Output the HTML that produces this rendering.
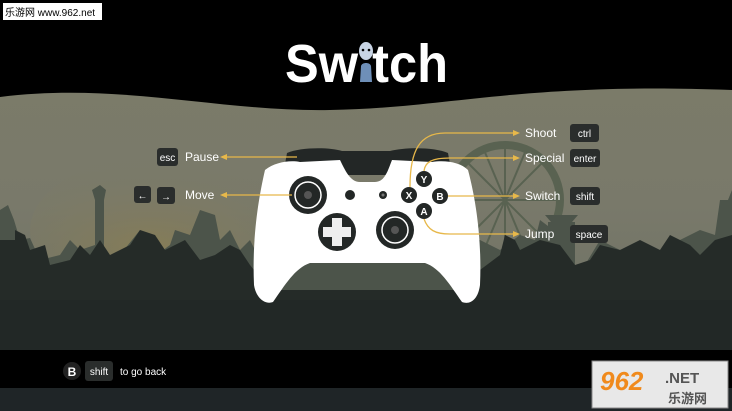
<!DOCTYPE html>
<html><head><meta charset="utf-8"><style>
html,body{margin:0;padding:0;width:732px;height:411px;overflow:hidden;background:#000}
svg{display:block}
text{font-family:"Liberation Sans","Noto Sans CJK SC",sans-serif}
</style></head><body>
<svg width="732" height="411" viewBox="0 0 732 411" xmlns="http://www.w3.org/2000/svg">
<defs>
<linearGradient id="sky" x1="0" y1="0" x2="0" y2="1">
<stop offset="0" stop-color="#7b7b69"/><stop offset="0.45" stop-color="#79796a"/><stop offset="1" stop-color="#6c7064"/>
</linearGradient>
<radialGradient id="glow" cx="0.3" cy="0.6" r="0.5">
<stop offset="0" stop-color="#8a7e52" stop-opacity="0.8"/><stop offset="1" stop-color="#7a7a68" stop-opacity="0"/>
</radialGradient>
</defs>
<rect width="732" height="411" fill="#000"/>
<path d="M0,97 C120,82 220,112 330,110 C450,108 520,82 732,90 L732,350 L0,350 Z" fill="url(#sky)"/>
<ellipse cx="230" cy="230" rx="200" ry="90" fill="url(#glow)"/>
<g stroke="#56604f" fill="none" opacity="0.9">
<circle cx="505" cy="200" r="55" stroke-width="8"/>
<g stroke-width="2">
<line x1="505" y1="145" x2="505" y2="255"/><line x1="450" y1="200" x2="560" y2="200"/>
<line x1="466" y1="161" x2="544" y2="239"/><line x1="544" y1="161" x2="466" y2="239"/>
<line x1="484" y1="150" x2="526" y2="250"/><line x1="526" y1="150" x2="484" y2="250"/>
</g></g>
<path fill="#4c544a" d="M0,300 L0,210 L8,205 L14,220 L20,240 L30,238 L40,260 L60,255 L70,240 L80,250 L95,245 L95,200 L92,190 L100,185 L106,190 L104,200 L104,260 L120,255 L140,230 L150,260 L170,245 L175,230 L190,235 L200,210 L215,215 L220,240 L230,230 L240,250 L250,240 L260,260 L280,255 L290,250 L300,240 L480,240 L500,250 L520,235 L535,240 L540,220 L560,235 L560,270 L585,265 L600,240 L620,250 L640,245 L660,260 L680,240 L700,230 L715,235 L720,200 L728,200 L732,190 L732,300 Z"/>
<path fill="#4c544a" d="M548,222 L548,280 L575,280 L575,222 Z M545,215 L578,215 L572,222 L551,222 Z"/>
<path fill="#252b28" d="M0,350 L0,240 L15,240 L15,230 L25,235 L30,250 L45,245 L50,265 L70,260 L80,245 L90,255 L100,240 L110,255 L130,245 L140,230 L155,235 L165,250 L185,240 L200,260 L215,255 L230,245 L240,250 L250,265 L270,290 L460,290 L480,270 L500,255 L505,235 L515,240 L520,250 L540,240 L560,245 L575,265 L590,260 L600,245 L620,250 L640,240 L660,250 L670,235 L690,245 L700,255 L715,240 L732,235 L732,350 Z"/>
<rect x="0" y="300" width="732" height="50" fill="#222826"/>
<rect x="0" y="350" width="732" height="38" fill="#000"/>
<rect x="0" y="388" width="732" height="23" fill="#1f2527"/>
<!-- controller -->
<path d="M287,153 C300,147 330,147 342,151 L390,151 C405,147 435,147 448,153 L452,175 L283,175 Z" fill="#232726"/>
<path d="M265,170 C275,162 290,160 300,162 L340,160 C345,170 350,182 360,182 L375,182 C385,182 388,170 392,160 L432,162 C445,160 460,162 468,170 C476,200 482,240 480,285 C478,300 470,305 462,302 C450,285 440,268 425,263 L310,263 C295,268 285,285 273,302 C265,305 256,298 254,285 C252,240 258,200 265,170 Z" fill="#fff"/>
<circle cx="308" cy="195" r="19" fill="#232726"/><circle cx="308" cy="195" r="13" fill="none" stroke="#fff" stroke-width="1.5"/><circle cx="308" cy="195" r="4" fill="#555"/>
<circle cx="350" cy="195" r="5" fill="#232726"/><circle cx="383" cy="195" r="4" fill="#232726"/><circle cx="383" cy="195" r="1.5" fill="#777"/>
<circle cx="337" cy="232" r="19" fill="#232726"/>
<path d="M332,218 h10 v9 h9 v10 h-9 v9 h-10 v-9 h-9 v-10 h9 z" fill="#eee"/>
<circle cx="395" cy="230" r="19" fill="#232726"/><circle cx="395" cy="230" r="13" fill="none" stroke="#fff" stroke-width="1.5"/><circle cx="395" cy="230" r="4" fill="#555"/>
<!-- connectors -->
<g stroke="#e7b84a" stroke-width="1.3" fill="none">
<path d="M297,157 L222,157"/><path d="M292,195 L222,195"/>
<path d="M410,187 C410,150 420,133 445,133 L518,133"/>
<path d="M424,171 C425,162 432,158 450,158 L518,158"/>
<path d="M448,196 L518,196"/>
<path d="M424,219 C428,230 435,234 450,234 L518,234"/>
</g>
<g fill="#e7b84a">
<path d="M220,157 l7,-3 v6 z"/><path d="M220,195 l7,-3 v6 z"/>
<path d="M520,133 l-7,-3 v6 z"/><path d="M520,158 l-7,-3 v6 z"/><path d="M520,196 l-7,-3 v6 z"/><path d="M520,234 l-7,-3 v6 z"/>
</g>
<g fill="#232726"><circle cx="409" cy="195" r="8"/><circle cx="424" cy="179" r="8"/><circle cx="440" cy="196" r="8"/><circle cx="424" cy="211" r="8"/></g>
<g fill="#fff" font-size="10" font-weight="bold" text-anchor="middle">
<text x="409" y="199">X</text><text x="424" y="183">Y</text><text x="440" y="200">B</text><text x="424" y="215">A</text></g>
<g fill="#2a2d2c"><rect x="157" y="148" width="21" height="18" rx="3"/><rect x="134" y="186" width="17" height="17" rx="3"/><rect x="157" y="187" width="18" height="17" rx="3"/>
<rect x="570" y="124" width="29" height="18" rx="3"/><rect x="570" y="149" width="30" height="18" rx="3"/><rect x="570" y="187" width="30" height="18" rx="3"/><rect x="570" y="225" width="38" height="18" rx="3"/></g>
<g fill="#fff" font-size="10" text-anchor="middle">
<text x="167.5" y="161">esc</text><text x="142.5" y="199">←</text><text x="166" y="200">→</text>
<text x="584.5" y="137">ctrl</text><text x="585" y="162">enter</text><text x="585" y="200">shift</text><text x="589" y="238">space</text></g>
<g fill="#fff" font-size="12">
<text x="185" y="161">Pause</text><text x="185" y="199">Move</text>
<text x="525" y="137">Shoot</text><text x="525" y="162">Special</text><text x="525" y="200">Switch</text><text x="525" y="238">Jump</text></g>
<text x="285" y="82" fill="#fff" font-size="54" font-weight="bold" textLength="163" lengthAdjust="spacingAndGlyphs">Sw<tspan fill="#000">i</tspan>tch</text>
<ellipse cx="366" cy="51" rx="7" ry="9" fill="#c8d4e4"/><circle cx="363" cy="50" r="1.3" fill="#000"/><circle cx="369" cy="50" r="1.3" fill="#000"/>
<path d="M360,82 L361,66 C362,62 370,62 371,66 L372,82 Z" fill="#6e8fb8"/>
<circle cx="72" cy="371" r="9" fill="#222"/><text x="72" y="376" fill="#fff" font-size="12" font-weight="bold" text-anchor="middle">B</text>
<rect x="85" y="361" width="28" height="20" rx="3" fill="#2a2d2c"/><text x="99" y="375" fill="#fff" font-size="10" text-anchor="middle">shift</text>
<text x="120" y="375" fill="#fff" font-size="10">to go back</text>
<rect x="3" y="3" width="99" height="17" fill="#fff"/><text x="5" y="16" font-size="10" fill="#000">乐游网 www.962.net</text>
<rect x="592" y="361" width="136" height="47" fill="#e8e8e8" stroke="#888"/>
<text x="600" y="390" font-size="26" font-weight="bold" font-style="italic" fill="#f08a1c">962</text>
<text x="665" y="383" font-size="15" font-weight="bold" fill="#555">.NET</text>
<text x="668" y="403" font-size="13" font-weight="bold" fill="#555">乐游网</text>
</svg>
</body></html>
